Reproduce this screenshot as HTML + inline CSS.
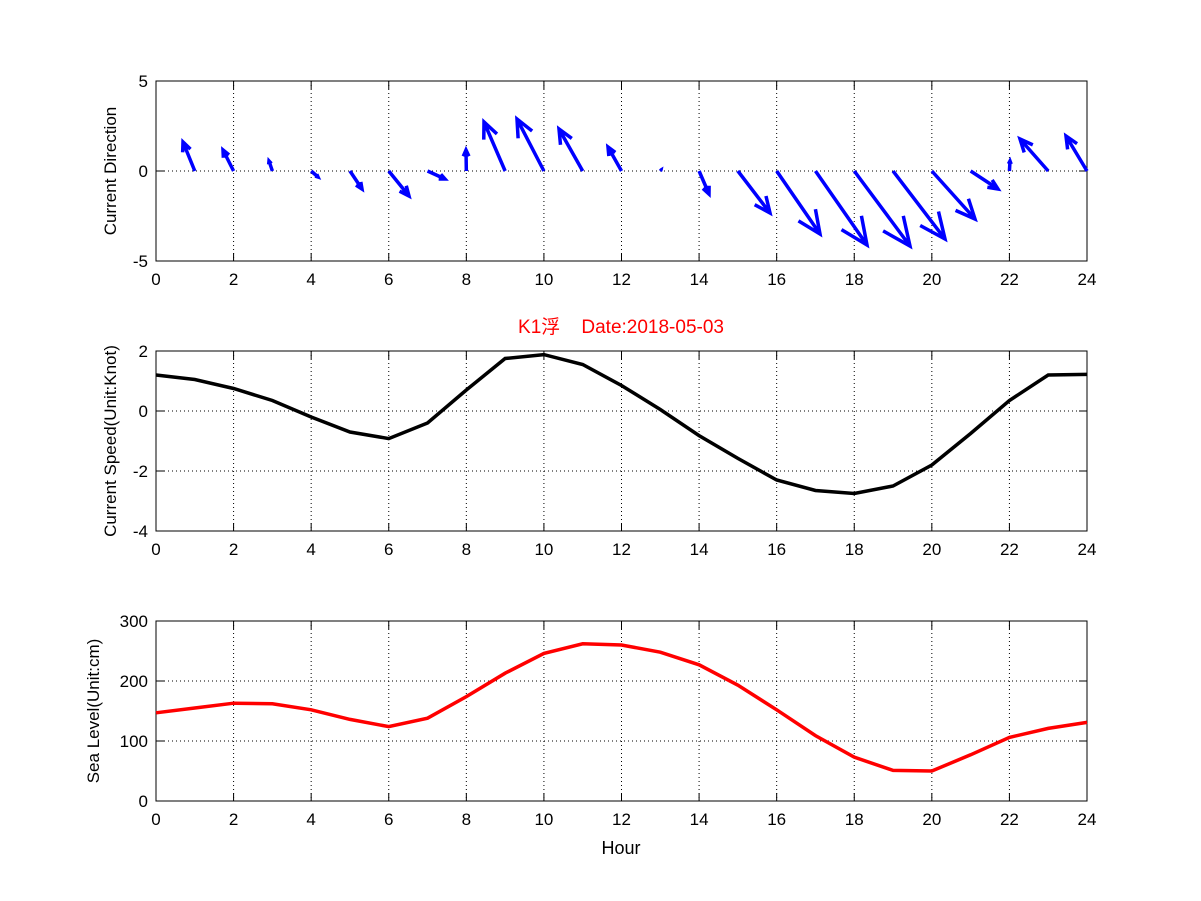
<!DOCTYPE html>
<html><head><meta charset="utf-8"><style>
body{margin:0;background:#fff;}
svg{display:block;font-family:"Liberation Sans","Noto Sans CJK SC",sans-serif;}
</style></head><body>
<svg id="s" width="1201" height="901" xmlns="http://www.w3.org/2000/svg"></svg>
<script>
const s=document.getElementById('s');let h='';
const X0=156,X1=1087,xs=h0=>X0+(X1-X0)*h0/24;
function axes(top,bot,ticks,ymap,ylabel,lblx){
  for(let i=2;i<24;i+=2){h+=`<line x1="${xs(i)}" y1="${top}" x2="${xs(i)}" y2="${bot}" stroke="#000" stroke-dasharray="1,3" stroke-width="1"/>`;}
  ticks.forEach(t=>{const y=ymap(t);if(y>top+1&&y<bot-1)h+=`<line x1="${X0}" y1="${y}" x2="${X1}" y2="${y}" stroke="#000" stroke-dasharray="1,3" stroke-width="1"/>`;});
  h+=`<rect x="${X0}" y="${top}" width="${X1-X0}" height="${bot-top}" fill="none" stroke="#000"/>`;
  for(let i=0;i<=24;i+=2){const x=xs(i);h+=`<line x1="${x}" y1="${bot}" x2="${x}" y2="${bot-8}" stroke="#000"/><line x1="${x}" y1="${top}" x2="${x}" y2="${top+8}" stroke="#000"/><text x="${x}" y="${bot+24}" font-size="17" text-anchor="middle">${i}</text>`;}
  ticks.forEach(t=>{const y=ymap(t);h+=`<line x1="${X0}" y1="${y}" x2="${X0+8}" y2="${y}" stroke="#000"/><line x1="${X1}" y1="${y}" x2="${X1-8}" y2="${y}" stroke="#000"/><text x="${X0-8}" y="${y+6}" font-size="17" text-anchor="end">${t}</text>`;});
  const cy=(top+bot)/2;h+=`<text x="${lblx}" y="${cy}" font-size="17" text-anchor="middle" transform="rotate(-90 ${lblx} ${cy})">${ylabel}</text>`;
}
axes(81,261,[-5,0,5],v=>171-v*18,'Current Direction',116);
axes(351,531,[-4,-2,0,2],v=>351+(2-v)*30,'Current Speed(Unit:Knot)',116);
axes(621,801,[0,100,200,300],v=>801-v*0.6,'Sea Level(Unit:cm)',99);
const tips=[[183,142],[223,150],[269,161],[318,177],[362,189],[409,196],[445,179],[466,150],[484,122],[517,119],[559,129],[608,147],[661,170],[709,194],[770,213],[820,234],[867,245],[910,246],[945,239],[975,219],[998,189],[1010,161],[1020,139],[1066,136]];
tips.forEach((t,i)=>{const bx=xs(i+1),by=171,dx=t[0]-bx,dy=t[1]-by,L=Math.hypot(dx,dy);if(L<1){h+=`<circle cx="${bx}" cy="${by}" r="1.5" fill="#00f"/>`;return;}
 const a=Math.atan2(dy,dx),hl=L*0.33,ang=0.42;
 const p1=[t[0]-hl*Math.cos(a-ang),t[1]-hl*Math.sin(a-ang)],p2=[t[0]-hl*Math.cos(a+ang),t[1]-hl*Math.sin(a+ang)];
 h+=`<path d="M${bx},${by}L${t[0]},${t[1]}M${p1}L${t[0]},${t[1]}L${p2}" stroke="#00f" stroke-width="3.5" fill="none"/>`;});
const sp=[1.2,1.05,0.75,0.35,-0.2,-0.7,-0.92,-0.4,0.7,1.75,1.88,1.55,0.85,0.05,-0.82,-1.58,-2.3,-2.65,-2.75,-2.5,-1.8,-0.75,0.35,1.2,1.22];
h+=`<polyline fill="none" stroke="#000" stroke-width="3.5" points="${sp.map((v,i)=>xs(i)+','+(351+(2-v)*30)).join(' ')}"/>`;
const sl=[147,155,163,162,152,136,124,138,174,213,246,262,260,248,227,193,152,109,73,51,50,77,106,121,131];
h+=`<polyline fill="none" stroke="#f00" stroke-width="3.5" points="${sl.map((v,i)=>xs(i)+','+(801-v*0.6)).join(' ')}"/>`;
h+=`<text x="621" y="333" font-size="19" fill="#f00" text-anchor="middle" xml:space="preserve">K1浮    Date:2018-05-03</text>`;
h+=`<text x="621" y="854" font-size="18" text-anchor="middle">Hour</text>`;
s.innerHTML=h;
</script>
</body></html>
